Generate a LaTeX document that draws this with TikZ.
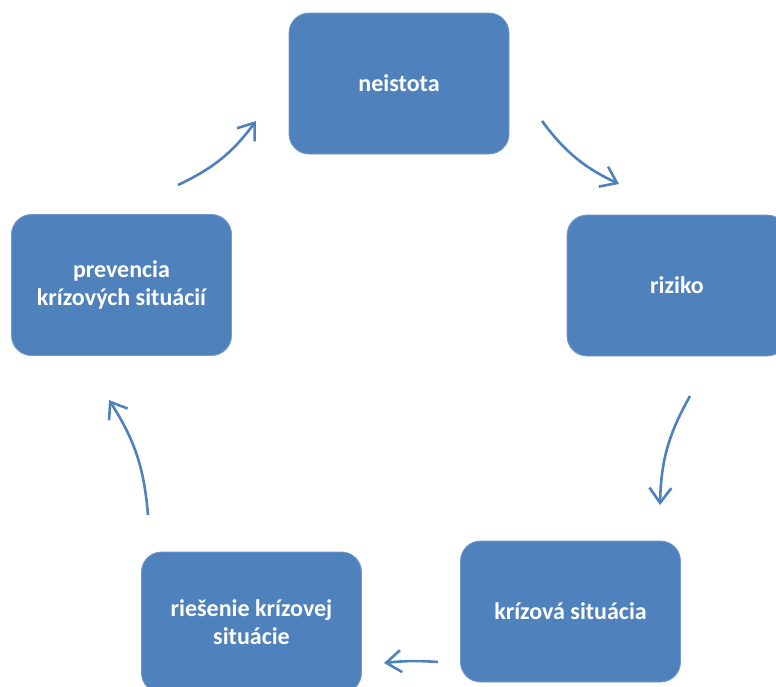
\documentclass[tikz,border=0pt]{standalone}
\usepackage{fontspec}
\setmainfont{Carlito}
\usetikzlibrary{arrows.meta}
\definecolor{boxblue}{HTML}{4F81BD}
\begin{document}
\begin{tikzpicture}[x=1pt,y=-1pt,
  stagebox/.style={fill=boxblue, draw=boxblue!80!white, line width=0.8pt, rounded corners=20pt,
    minimum width=220pt, minimum height=141pt, inner sep=0pt, align=center,
    text=white, font=\fontsize{24}{28}\selectfont\bfseries},
  cyc/.style={draw=boxblue, line width=2.6pt, -{Straight Barb[length=15pt,width=22pt]}}]
\useasboundingbox (0,0) rectangle (776,686);
\node[stagebox] (n) at (399,83.5) {neistota};
\node[stagebox] (r) at (677,285.5) {riziko};
\node[stagebox] (k) at (570.5,611.5) {krízová situácia};
\node[stagebox] (s) at (251.5,622.5) {riešenie krízovej\\situácie};
\node[stagebox] (p) at (121.5,285) {prevencia\\krízových situácií};
\coordinate (a1) at (542,121); \coordinate (b1) at (619,184);
\coordinate (a2) at (690,396); \coordinate (b2) at (660,505);
\coordinate (a3) at (438,662); \coordinate (b3) at (384,663);
\coordinate (a4) at (148,515); \coordinate (b4) at (109,400);
\coordinate (a5) at (178,185); \coordinate (b5) at (256,121);
\draw[cyc] (a1) to[bend right=14] (b1);
\draw[cyc] (a2) to[bend right=14] (b2);
\draw[cyc] (a3) to[bend right=5] (b3);
\draw[cyc] (a4) to[bend right=14] (b4);
\draw[cyc] (a5) to[bend right=14] (b5);
\end{tikzpicture}
\end{document}
